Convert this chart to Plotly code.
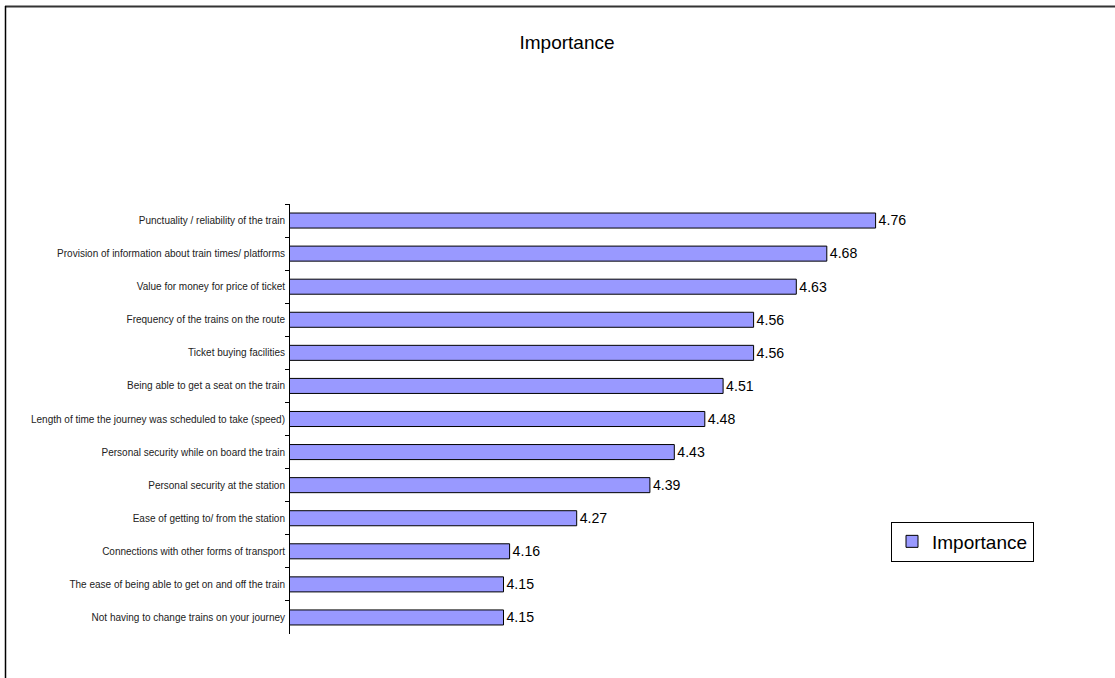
import plotly.graph_objects as go

# Survey items, listed from most to least important
categories = [
    "Punctuality / reliability of the train",
    "Provision of information about train times/ platforms",
    "Value for money for price of ticket",
    "Frequency of the trains on the route",
    "Ticket buying facilities",
    "Being able to get a seat on the train",
    "Length of time the journey was scheduled to take (speed)",
    "Personal security while on board the train",
    "Personal security at the station",
    "Ease of getting to/ from the station",
    "Connections with other forms of transport",
    "The ease of being able to get on and off the train",
    "Not having to change trains on your journey",
]
importance = [4.76, 4.68, 4.63, 4.56, 4.56, 4.51, 4.48, 4.43, 4.39, 4.27, 4.16, 4.15, 4.15]

FONT = "Liberation Sans, Arial, sans-serif"

W, H = 1115, 678
L, R, T, B = 290, 215, 204, 44
pw, ph = W - L - R, H - T - B

fig = go.Figure(
    go.Bar(
        x=importance,
        y=categories,
        orientation="h",
        name="Importance",
        width=0.4545,
        marker=dict(color="#9999FF", line=dict(color="#000000", width=1)),
        texttemplate="%{x:.2f}",
        textposition="outside",
        textfont=dict(family=FONT, size=16, color="#000000"),
        cliponaxis=False,
    )
)


def px_x(v):
    return (v - L) / pw


def px_y(v):
    return (H - B - v) / ph


fig.update_layout(
    width=W,
    height=H,
    margin=dict(l=L, r=R, t=T, b=B, pad=0, autoexpand=False),
    paper_bgcolor="white",
    plot_bgcolor="white",
    font=dict(family=FONT, color="#000000"),
    title=dict(
        text="Importance",
        x=567 / W,
        xanchor="center",
        y=1 - 42 / H,
        yanchor="middle",
        font=dict(family=FONT, size=19, color="#000000"),
    ),
    showlegend=True,
    legend=dict(
        x=px_x(891),
        xanchor="left",
        y=px_y(541.5),
        yanchor="middle",
        bordercolor="#000000",
        borderwidth=1,
        bgcolor="white",
        font=dict(family=FONT, size=19, color="#000000"),
        itemwidth=30,
        tracegroupgap=0,
    ),
    xaxis=dict(
        range=[3.8, 4.8],
        visible=False,
        showgrid=False,
        zeroline=False,
        automargin=False,
    ),
    yaxis=dict(
        autorange="reversed",
        automargin=False,
        showline=True,
        linecolor="#000000",
        linewidth=1,
        ticks="outside",
        tickson="boundaries",
        ticklen=4,
        tickcolor="#000000",
        showgrid=False,
        ticklabelstandoff=2,
        tickfont=dict(family=FONT, size=10, color="#222222"),
    ),
    bargap=0.5455,
    shapes=[
        dict(type="line", xref="paper", yref="paper",
             x0=px_x(5), x1=px_x(W + 5), y0=px_y(6.5), y1=px_y(6.5),
             line=dict(color="#333333", width=2)),
        dict(type="line", xref="paper", yref="paper",
             x0=px_x(5.5), x1=px_x(5.5), y0=px_y(6), y1=px_y(H + 5),
             line=dict(color="#000000", width=1.5)),
    ],
)

fig.write_html("out.html")
